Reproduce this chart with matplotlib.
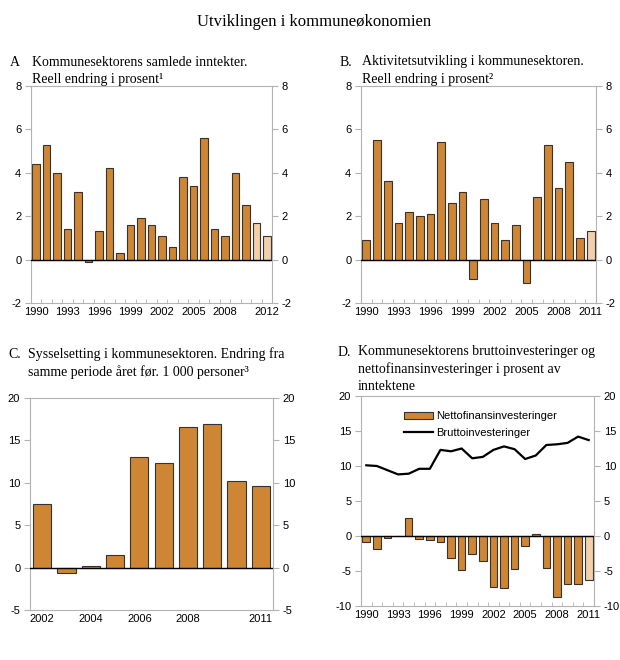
import numpy as np
import matplotlib.pyplot as plt
from matplotlib.patches import Patch
from matplotlib.lines import Line2D

# Data
years_a = list(range(1990, 2013))
inntekter = [4.4, 5.3, 4.0, 1.4, 3.1, -0.1, 1.3, 4.2, 0.3, 1.6, 1.9, 1.6, 1.1,
             0.6, 3.8, 3.4, 5.6, 1.4, 1.1, 4.0, 2.5, 1.7, 1.1]
light_a = 2  # last two are estimates

years_b = list(range(1990, 2012))
aktivitet = [0.9, 5.5, 3.6, 1.7, 2.2, 2.0, 2.1, 5.4, 2.6, 3.1, -0.9, 2.8, 1.7,
             0.9, 1.6, -1.1, 2.9, 5.3, 3.3, 4.5, 1.0, 1.3]
light_b = 1

years_c = list(range(2002, 2012))
sysselsetting = [7.5, -0.6, 0.2, 1.5, 13.1, 12.3, 16.6, 16.9, 10.2, 9.6]
labels_c = ["2002", "", "2004", "", "2006", "", "2008", "", "", "2011"]

years_d = list(range(1990, 2012))
netto = [-0.9, -1.8, -0.3, 0.0, 2.6, -0.4, -0.5, -0.9, -3.2, -4.8, -2.5, -3.6,
         -7.3, -7.4, -4.7, -1.4, 0.3, -4.5, -8.7, -6.9, -6.9, -6.3]
brutto = [10.1, 10.0, 9.4, 8.8, 8.9, 9.6, 9.6, 12.3, 12.1, 12.5, 11.1, 11.3,
          12.3, 12.8, 12.4, 11.0, 11.5, 13.0, 13.1, 13.3, 14.2, 13.7]
light_d = 1

ORANGE = "#CF8634"
LIGHT = "#F2D0A9"
GREY = "#b3b3b3"
SERIF = "Liberation Serif"
SANS = "Liberation Sans"

plt.rcParams["axes.unicode_minus"] = False

W, H = 620, 660
fig = plt.figure(figsize=(W / 100, H / 100), dpi=100)


def make_ax(l, r, t, b):
    return fig.add_axes([l / W, (H - b) / H, (r - l) / W, (b - t) / H])


def style(ax, ylim, yticks, n, xticks, xlabels, minor=True):
    ax.set_ylim(*ylim)
    ax.set_yticks(yticks)
    ax.set_xlim(-0.5, n - 0.5)
    ax.set_xticks(xticks)
    ax.set_xticklabels(xlabels)
    for s in ax.spines.values():
        s.set_color(GREY)
    ax.tick_params(axis="y", left=True, right=True, labelright=True,
                   direction="out", length=4, color=GREY, labelsize=8, pad=3)
    ax.tick_params(axis="x", which="major", length=0, labelsize=8, pad=3)
    if minor:
        ax.set_xticks(np.arange(-0.5, n, 1), minor=True)
        ax.tick_params(axis="x", which="minor", direction="in", length=3, color=GREY)
    for lab in ax.get_xticklabels() + ax.get_yticklabels():
        lab.set_fontfamily(SANS)
    for lab in ax.yaxis.get_ticklabels(which="both"):
        lab.set_fontfamily(SANS)
    ax.axhline(0, color="black", lw=1, zorder=3)


def bars(ax, vals, n_light, width=0.72):
    x = np.arange(len(vals))
    cols = [ORANGE] * (len(vals) - n_light) + [LIGHT] * n_light
    ax.bar(x, vals, width=width, color=cols, edgecolor="#333333", linewidth=0.8, zorder=2)


# Title
fig.text(314 / W, 1 - 22 / H, "Utviklingen i kommuneøkonomien", ha="center", va="center",
         fontsize=12, family=SERIF)

# Panel A
ax = make_ax(31, 272, 86, 303)
bars(ax, inntekter, light_a)
ticks = [i for i, y in enumerate(years_a) if (y - 1990) % 3 == 0 and y < 2011] + [len(years_a) - 1]
style(ax, (-2, 8), range(-2, 9, 2), len(years_a), ticks, [str(years_a[i]) for i in ticks])
fig.text(10 / W, 1 - 62 / H, "A", fontsize=10, family=SERIF, va="center")
fig.text(32 / W, 1 - 62 / H, "Kommunesektorens samlede inntekter.", fontsize=10, family=SERIF, va="center")
fig.text(32 / W, 1 - 80 / H, "Reell endring i prosent¹", fontsize=10, family=SERIF, va="center")

# Panel B
ax = make_ax(361, 596, 86, 303)
bars(ax, aktivitet, light_b)
ticks = [i for i, y in enumerate(years_b) if (y - 1990) % 3 == 0]
style(ax, (-2, 8), range(-2, 9, 2), len(years_b), ticks, [str(years_b[i]) for i in ticks])
fig.text(340 / W, 1 - 62 / H, "B.", fontsize=10, family=SERIF, va="center")
fig.text(362 / W, 1 - 62 / H, "Aktivitetsutvikling i kommunesektoren.", fontsize=10, family=SERIF, va="center")
fig.text(362 / W, 1 - 80 / H, "Reell endring i prosent²", fontsize=10, family=SERIF, va="center")

# Panel C
ax = make_ax(30, 273, 398, 610)
bars(ax, sysselsetting, 0, width=0.75)
style(ax, (-5, 20), range(-5, 21, 5), len(years_c), range(len(years_c)), labels_c, minor=False)
fig.text(8 / W, 1 - 354 / H, "C.", fontsize=10, family=SERIF, va="center")
fig.text(28 / W, 1 - 354 / H, "Sysselsetting i kommunesektoren. Endring fra", fontsize=10, family=SERIF, va="center")
fig.text(28 / W, 1 - 372 / H, "samme periode året før. 1 000 personer³", fontsize=10, family=SERIF, va="center")

# Panel D
ax = make_ax(361, 594, 396, 606)
bars(ax, netto, light_d)
ax.plot(np.arange(len(brutto)), brutto, color="black", lw=1.6, zorder=4)
ticks = [i for i, y in enumerate(years_d) if (y - 1990) % 3 == 0]
style(ax, (-10, 20), range(-10, 21, 5), len(years_d), ticks, [str(years_d[i]) for i in ticks])
fig.text(338 / W, 1 - 352 / H, "D.", fontsize=10, family=SERIF, va="center")
fig.text(358 / W, 1 - 352 / H, "Kommunesektorens bruttoinvesteringer og", fontsize=10, family=SERIF, va="center")
fig.text(358 / W, 1 - 369 / H, "nettofinansinvesteringer i prosent av", fontsize=10, family=SERIF, va="center")
fig.text(358 / W, 1 - 387 / H, "inntektene", fontsize=10, family=SERIF, va="center")
handles = [Patch(facecolor=ORANGE, edgecolor="#333333", linewidth=0.8),
           Line2D([0], [0], color="black", lw=1.6)]
ax.legend(handles, ["Nettofinansinvesteringer", "Bruttoinvesteringer"],
          loc="upper left", bbox_to_anchor=(0.14, 0.975), frameon=False,
          prop={"family": SANS, "size": 8}, handlelength=2.6, handleheight=0.6,
          handletextpad=0.3, labelspacing=0.6)

fig.savefig("out.png", dpi=100)
